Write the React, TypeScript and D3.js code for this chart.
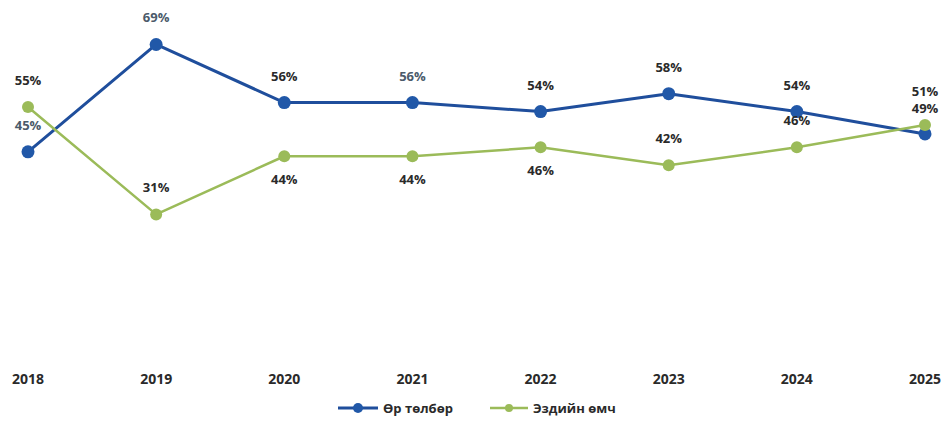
import React from "react";
import * as d3 from "d3";

const years = ["2018", "2019", "2020", "2021", "2022", "2023", "2024", "2025"];
const debtValues = [45, 69, 56, 56, 54, 58, 54, 49];
const equityValues = [55, 31, 44, 44, 46, 42, 46, 51];
const seriesNames = ["Өр төлбөр", "Эздийн өмч"];
// label side per point: -1 above, 1 below
const debtLabelSide = [-1, -1, -1, -1, -1, -1, -1, -1];
const equityLabelSide = [-1, -1, 1, 1, 1, -1, -1, -1];

const W = 946;
const H = 421;
const FONT = "'Open Sans', 'DejaVu Sans', sans-serif";

export default function App() {
  const x = d3.scalePoint<string>().domain(years).range([28, 925]);
  const y = d3.scaleLinear().domain([0, 70]).range([353, 40]);

  const line = d3
    .line<number>()
    .x((_, i) => x(years[i]) as number)
    .y((d) => y(d));

  const blueLine = "#1f4e9c";
  const blueDot = "#2158a8";
  const green = "#9bbb59";
  const textDark = "#2a2a2a";
  const textSlate = "#4b5a6a";

  const series = [
    { name: seriesNames[0], values: debtValues, side: debtLabelSide, stroke: blueLine, dot: blueDot, sw: 3, r: 6.5 },
    { name: seriesNames[1], values: equityValues, side: equityLabelSide, stroke: green, dot: green, sw: 2.5, r: 6 },
  ];

  const lastIdx = years.length - 1;

  return (
    <svg
      width={W}
      height={H}
      style={{ position: "absolute", left: 0, top: 0, background: "#fff" }}
      fontFamily={FONT}
    >
      <rect width={W} height={H} fill="#fff" />
      {series.map((s) => (
        <g key={s.name}>
          <path d={line(s.values) || ""} fill="none" stroke={s.stroke} strokeWidth={s.sw} strokeLinejoin="round" />
          {s.values.map((v, i) => (
            <circle key={i} cx={x(years[i]) as number} cy={y(v)} r={s.r} fill={s.dot} />
          ))}
        </g>
      ))}
      {series.map((s, si) =>
        s.values.map((v, i) => {
          const side = s.side[i];
          let cy = y(v) + (side < 0 ? -22 : 28);
          // nudge the crowded last pair apart
          if (i === lastIdx) cy += si === 1 ? -7 : 1;
          const slate = si === 0 && (i === 1 || i === 3 || i === 0);
          return (
            <text
              key={s.name + i}
              x={x(years[i]) as number}
              y={cy}
              textAnchor="middle"
              fontSize={13}
              fontWeight={700}
              fill={slate ? textSlate : textDark}
            >
              {v}%
            </text>
          );
        })
      )}
      {years.map((yr) => (
        <text
          key={yr}
          x={x(yr) as number}
          y={384}
          textAnchor="middle"
          fontSize={14}
          fontWeight={700}
          fill={textDark}
        >
          {yr}
        </text>
      ))}
      <g>
        <line x1={338} x2={378} y1={408} y2={408} stroke={blueLine} strokeWidth={3} />
        <circle cx={358} cy={408} r={5} fill={blueDot} />
        <text x={383} y={413} fontSize={13} fontWeight={700} fill={textDark}>
          {seriesNames[0]}
        </text>
        <line x1={490} x2={528} y1={408} y2={408} stroke={green} strokeWidth={2.5} />
        <circle cx={509} cy={408} r={4} fill={green} />
        <text x={533} y={413} fontSize={13} fontWeight={700} fill={textDark}>
          {seriesNames[1]}
        </text>
      </g>
    </svg>
  );
}
